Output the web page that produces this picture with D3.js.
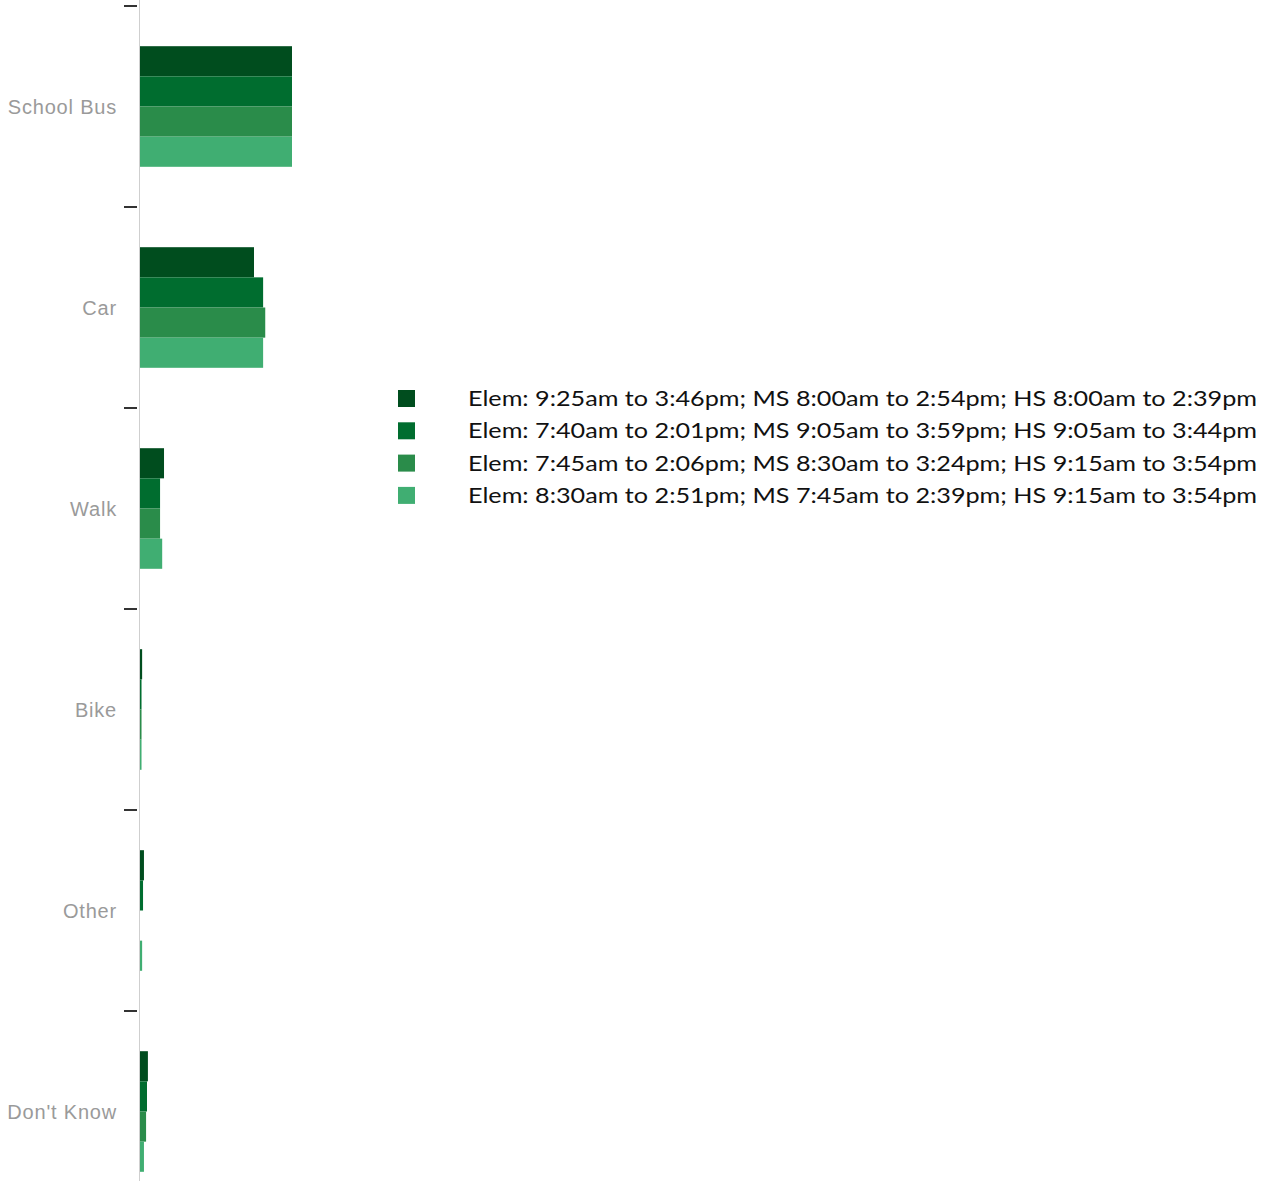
<!DOCTYPE html>
<html>
<head>
<meta charset="utf-8">
<script src="https://cdn.jsdelivr.net/npm/d3@7"></script>
<style>
  body { margin: 0; background: #fff; }
  svg { display: block; }
</style>
</head>
<body>
<div id="chart"></div>
<script>
const categories = ['School Bus', 'Car', 'Walk', 'Bike', 'Other', "Don't Know"];
const seriesNames = [
  'Elem: 9:25am to 3:46pm; MS 8:00am to 2:54pm; HS 8:00am to 2:39pm',
  'Elem: 7:40am to 2:01pm; MS 9:05am to 3:59pm; HS 9:05am to 3:44pm',
  'Elem: 7:45am to 2:06pm; MS 8:30am to 3:24pm; HS 9:15am to 3:54pm',
  'Elem: 8:30am to 2:51pm; MS 7:45am to 2:39pm; HS 9:15am to 3:54pm'
];
// percent of students, one array per series (same order as categories)
const series1 = [50, 37.5, 7.9, 0.7, 1.3, 2.6];
const series2 = [50, 40.5, 6.6, 0.5, 1.0, 2.3];
const series3 = [50, 41.2, 6.6, 0.5, 0, 2.0];
const series4 = [50, 40.5, 7.3, 0.5, 0.7, 1.3];
const colors = ['#004d1e', '#006d2f', '#2a8c4a', '#40ae72'];

const allSeries = [series1, series2, series3, series4];
const width = 1261;
const height = 1181;

const svg = d3.select('#chart')
  .append('svg')
  .attr('width', width)
  .attr('height', height);

const y = d3.scaleBand()
  .domain(categories)
  .range([6, 1212])
  .paddingInner(0.4)
  .paddingOuter(0.2);

const ySub = d3.scaleBand()
  .domain(d3.range(seriesNames.length))
  .range([0, y.bandwidth()]);

const x = d3.scaleLinear().domain([0, 100]).range([140, 444]);

// axis line
svg.append('line')
  .attr('x1', 139.5).attr('x2', 139.5)
  .attr('y1', 0).attr('y2', height)
  .attr('stroke', '#cfcfcf')
  .attr('stroke-width', 1);

// ticks sit on the band boundaries, not the centres
const step = y.step();
svg.selectAll('.tick-mark')
  .data(categories)
  .enter()
  .append('line')
  .attr('class', 'tick-mark')
  .attr('x1', 124).attr('x2', 137)
  .attr('y1', (d) => y(d) - step * y.paddingOuter())
  .attr('y2', (d) => y(d) - step * y.paddingOuter())
  .attr('stroke', '#333')
  .attr('stroke-width', 2);

svg.selectAll('.cat-label')
  .data(categories)
  .enter()
  .append('text')
  .attr('class', 'cat-label')
  .attr('x', 117)
  .attr('y', (d) => y(d) + y.bandwidth() / 2)
  .attr('dy', '0.35em')
  .attr('text-anchor', 'end')
  .attr('font-family', 'Liberation Sans, Arial, sans-serif')
  .attr('font-size', 20)
  .attr('letter-spacing', 0.8)
  .attr('fill', '#9a9a9a')
  .text((d) => d);

const groups = svg.selectAll('.cat')
  .data(categories)
  .enter()
  .append('g')
  .attr('class', 'cat')
  .attr('transform', (d) => `translate(0, ${y(d)})`);

groups.selectAll('rect')
  .data((d, ci) => allSeries.map((s, si) => ({ si: si, value: s[ci] })))
  .enter()
  .append('rect')
  .attr('x', x(0))
  .attr('y', (d) => ySub(d.si))
  .attr('width', (d) => x(d.value) - x(0))
  .attr('height', ySub.bandwidth())
  .attr('fill', (d) => colors[d.si]);

// legend
const legend = svg.append('g').attr('transform', 'translate(398, 390)');
const legendRow = 32.3;
const items = legend.selectAll('.item')
  .data(seriesNames)
  .enter()
  .append('g')
  .attr('class', 'item')
  .attr('transform', (d, i) => `translate(0, ${i * legendRow})`);

items.append('rect')
  .attr('width', 17)
  .attr('height', 17)
  .attr('fill', (d, i) => colors[i]);

items.append('text')
  .attr('x', 70)
  .attr('y', 16)
  .attr('font-family', 'Lato, Open Sans, sans-serif')
  .attr('font-size', 21)
  .attr('fill', '#111')
  .attr('textLength', 789)
  .attr('lengthAdjust', 'spacingAndGlyphs')
  .text((d) => d);
</script>
</body>
</html>
